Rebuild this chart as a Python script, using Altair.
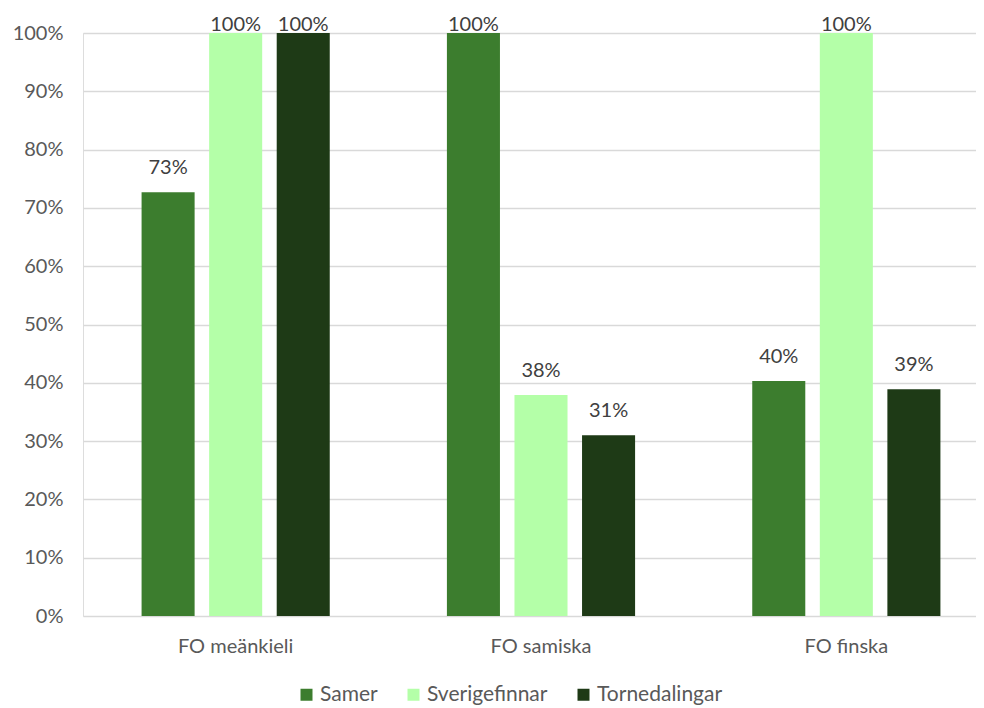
import altair as alt
import pandas as pd

categories = ["FO meänkieli", "FO samiska", "FO finska"]
series = ["Samer", "Sverigefinnar", "Tornedalingar"]
samer = [0.727, 1.0, 0.403]
sverigefinnar = [1.0, 0.379, 1.0]
tornedalingar = [1.0, 0.310, 0.389]
colors = ["#3c7d2e", "#b4ffa8", "#1e3a16"]
y_ticks = [i / 10 for i in range(11)]

rows = []
for s, vals in zip(series, [samer, sverigefinnar, tornedalingar]):
    for c, v in zip(categories, vals):
        rows.append({"cat": c, "series": s, "value": v})
df = pd.DataFrame(rows)

FONT = "Lato"
FS = 20

x = alt.X("cat:N", sort=categories, title=None,
          scale=alt.Scale(range=[0, 916], paddingInner=0, paddingOuter=0),
          axis=alt.Axis(labelAngle=0, domain=False, ticks=False, labelPadding=20,
                        labelFontSize=FS, labelFont=FONT, labelColor="#595959"))
xo = alt.XOffset("series:N", sort=series,
                 scale=alt.Scale(paddingInner=0.215, paddingOuter=0.867))
y = alt.Y("value:Q", title=None,
          scale=alt.Scale(domain=[0, 1]),
          axis=alt.Axis(values=y_ticks, format=".0%", domain=False, ticks=False,
                        labelPadding=20, gridColor="#d9d9d9", gridWidth=1.5,
                        labelFontSize=FS, labelFont=FONT, labelColor="#595959"))

base = alt.Chart(df).encode(x=x, xOffset=xo, y=y)

bars = base.mark_bar().encode(
    color=alt.Color("series:N", sort=series, title=None,
                    scale=alt.Scale(domain=series, range=colors),
                    legend=alt.Legend(orient="none", direction="horizontal",
                                      legendX=213, legendY=651,
                                      symbolType="square", symbolSize=144,
                                      symbolStrokeWidth=0, columnPadding=25,
                                      labelFontSize=21, labelFont=FONT,
                                      labelColor="#595959", labelOffset=3))
)

labels_low = base.transform_filter("datum.value < 0.995").mark_text(
    dy=-18, baseline="alphabetic", fontSize=FS, font=FONT, color="#404040"
).encode(text=alt.Text("value:Q", format=".0%"))

labels_top = base.transform_filter("datum.value >= 0.995").mark_text(
    dy=-2, baseline="alphabetic", fontSize=FS, font=FONT, color="#404040"
).encode(text=alt.Text("value:Q", format=".0%"))

chart = alt.layer(bars, labels_low, labels_top).properties(
    width=893, height=583,
    autosize=alt.AutoSizeParams(type="none"),
    padding={"left": 75, "top": 25, "right": 0, "bottom": 90},
).configure_view(stroke=None).configure(background="white")

chart.save("out.html", embed_options={"renderer": "svg", "actions": False})
